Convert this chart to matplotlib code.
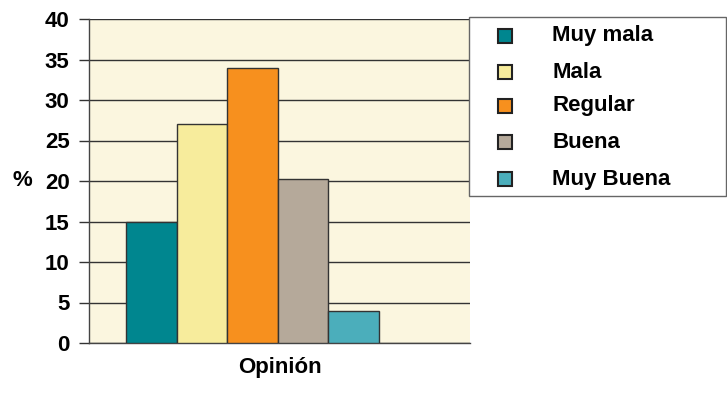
import matplotlib.pyplot as plt
from matplotlib.patches import Rectangle

labels = ["Muy mala", "Mala", "Regular", "Buena", "Muy Buena"]
values = [15, 27, 34, 20.2, 4]
colors = ["#00868F", "#F7EC9C", "#F7901E", "#B5A99A", "#4BAEBB"]
yticks = [0, 5, 10, 15, 20, 25, 30, 35, 40]

plt.rcParams['font.family'] = ['Liberation Sans', 'DejaVu Sans']
plt.rcParams['font.weight'] = 'bold'
FS = 16

fig = plt.figure(figsize=(7.27, 4.07), dpi=100)
W, H = 727, 407
ax = fig.add_axes([89 / W, 1 - 343 / H, (470 - 89) / W, (343 - 19) / H])
ax.set_facecolor("#FBF6DF")

for i, (v, c) in enumerate(zip(values, colors)):
    ax.bar(i, v, width=1.0, color=c, edgecolor="#333333", linewidth=1, zorder=3)

ax.set_ylim(0, 40)
ax.set_xlim(-1.23, 6.3)
ax.set_yticks(yticks)
ax.set_yticklabels([str(t) for t in yticks], fontsize=FS, fontweight='bold')
ax.set_xticks([])
ax.tick_params(axis='y', length=7, width=1, color="#333333", pad=7)
ax.yaxis.grid(True, color="#333333", linewidth=1, zorder=1)
ax.set_axisbelow(True)
for s in ["top", "right"]:
    ax.spines[s].set_visible(False)
for s in ["left", "bottom"]:
    ax.spines[s].set_color("#444444")
    ax.spines[s].set_linewidth(1)

ax.set_ylabel("%", rotation=0, fontsize=FS, fontweight='bold', ha='center', va='center')
ax.yaxis.set_label_coords(-0.176, 0.5)
ax.set_xlabel("Opinión", fontsize=FS, fontweight='bold', va='center')
ax.xaxis.set_label_coords(0.5, -(368 - 343) / 324)

# legend box drawn by hand
fig.patches.append(Rectangle((469 / W, 1 - 196 / H), (726 - 469) / W, (196 - 17) / H,
                             transform=fig.transFigure, facecolor="white",
                             edgecolor="#666666", linewidth=1))
row_y = [36, 72, 106, 142, 179]
for lab, c, y in zip(labels, colors, row_y):
    fig.patches.append(Rectangle((498 / W, 1 - (y + 7) / H), 14 / W, 14 / H,
                                 transform=fig.transFigure, facecolor=c,
                                 edgecolor="#222222", linewidth=1.5))
    fig.text(552 / W, 1 - y / H, lab, fontsize=FS, fontweight='bold',
             ha='left', va='center')

fig.savefig("out.png", dpi=100)
